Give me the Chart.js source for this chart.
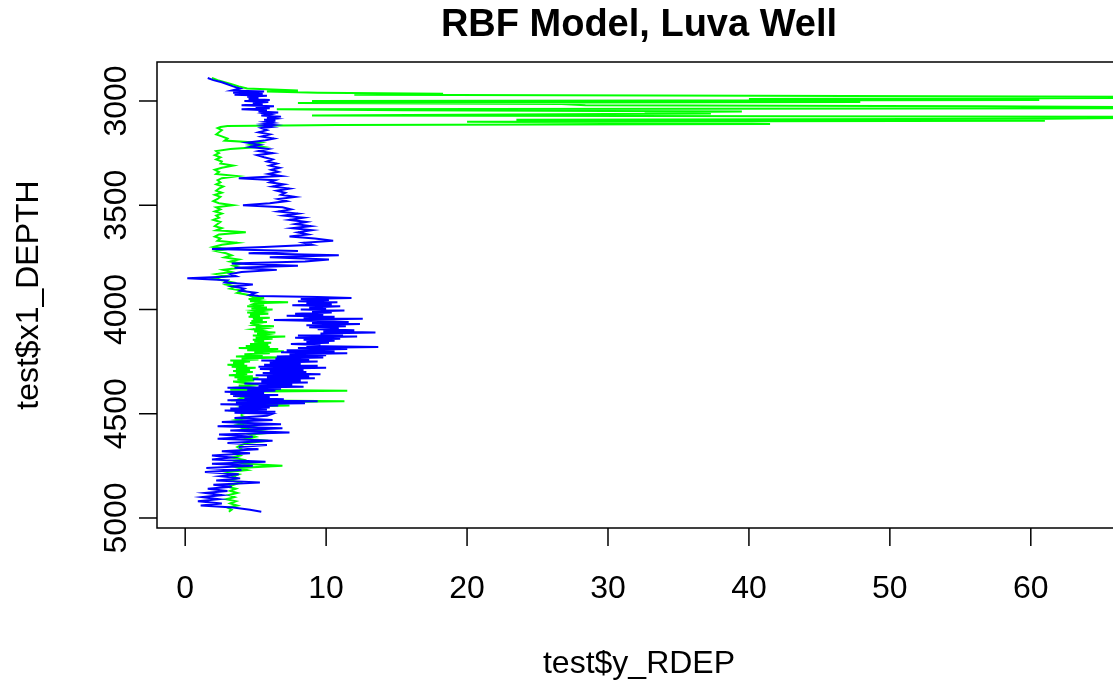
<!DOCTYPE html>
<html>
<head>
<meta charset="utf-8">
<title>RBF Model, Luva Well</title>
<script src="https://cdn.jsdelivr.net/npm/chart.js@4.4.1/dist/chart.umd.min.js"></script>
<style>
  html, body { margin: 0; padding: 0; overflow: hidden; background: #fff; }
</style>
</head>
<body>
<canvas id="chart" width="1121" height="686"></canvas>
<script>
// depth (ft); 10 ft steps, 5 ft where the log is busy
const depth = [
  2890, 2900, 2910, 2920, 2930, 2940,
  2950, 2955, 2960, 2965, 2970, 2975, 2980, 2985, 2990, 2995,
  3000, 3005, 3010, 3015, 3020, 3025, 3030, 3035, 3040, 3045,
  3050, 3055, 3060, 3065, 3070, 3075, 3080, 3085, 3090, 3095,
  3100, 3105, 3110, 3115, 3120, 3125, 3130,
  3140, 3150, 3160, 3170, 3180, 3190, 3200, 3210, 3220, 3230,
  3240, 3250, 3260, 3270, 3280, 3290, 3300, 3310, 3320, 3330,
  3340, 3350, 3360, 3370, 3380, 3390, 3400, 3410, 3420, 3430,
  3440, 3450, 3460, 3470, 3480, 3490, 3500, 3510, 3520, 3530,
  3540, 3550, 3560, 3570, 3580, 3590, 3600, 3610, 3620, 3630,
  3640, 3650, 3660, 3670, 3680, 3690, 3700, 3710, 3720, 3730,
  3740, 3750, 3760, 3770, 3780, 3790, 3800, 3810, 3820, 3830,
  3840, 3850, 3860, 3870, 3880, 3890, 3900, 3910, 3920, 3930,
  3935, 3940, 3945, 3950, 3955, 3960, 3965, 3970, 3975, 3980,
  3985, 3990, 3995, 4000, 4005, 4010, 4015, 4020, 4025, 4030,
  4035, 4040, 4045, 4050, 4055, 4060, 4065, 4070, 4075, 4080,
  4085, 4090, 4095, 4100, 4105, 4110, 4115, 4120, 4125, 4130,
  4135, 4140, 4145, 4150, 4155, 4160, 4165, 4170, 4175, 4180,
  4185, 4190, 4195, 4200, 4205, 4210, 4215, 4220, 4225, 4230,
  4235, 4240, 4245, 4250, 4255, 4260, 4265, 4270, 4275, 4280,
  4285, 4290, 4295, 4300,
  4305, 4310, 4315, 4320, 4325, 4330, 4335, 4340, 4345, 4350,
  4355, 4360, 4365, 4370, 4375, 4380, 4385, 4390, 4395, 4400,
  4405, 4410, 4415, 4420, 4425, 4430, 4435, 4440, 4445, 4450,
  4455, 4460, 4465, 4470, 4475, 4480, 4485, 4490, 4495, 4500,
  4510, 4520, 4530, 4540, 4550, 4560, 4570, 4580, 4590, 4600,
  4610, 4620, 4630, 4640, 4650, 4660, 4670, 4680, 4690, 4700,
  4710, 4720, 4730, 4740, 4750, 4760, 4770, 4780, 4790, 4800,
  4810, 4820, 4830, 4840, 4850, 4860, 4870, 4880, 4890, 4900,
  4910, 4920, 4930, 4940, 4950, 4960, 4970
];

// measured resistivity (green)
const rdepActual = [
  1.9, 2.3, 2.8, 3.3, 3.8, 4.4,
  8.0, 5.8, 9.4, 18.3, 12, 40.4, 70, 68, 40, 60.6,
  9, 47.9, 8, 26.7, 28.4, 56.5, 70, 70, 6.5, 15.5,
  39.5, 32.6, 37.3, 22.8, 9.0, 65.6, 70, 61.1, 23.5, 61,
  20, 36.2, 41.5, 10.8, 3.0, 2.5, 2.3,
  2.6, 2.4, 2.2, 2.6, 3.0, 2.8, 5.3, 4.6, 5.5, 3.2,
  2.2, 2.4, 2.1, 2.5, 2.2, 2.6, 2.5, 3.4, 2.6, 2.1,
  2.4, 2.2, 3.7, 2.6, 2.3, 2.5, 2.2, 2.7, 2.4, 2.2,
  2.6, 2.1, 2.5, 2.3, 2.0, 2.4, 3.4, 2.2, 2.5, 2.1,
  2.6, 2.2, 2.4, 2.0, 2.5, 2.3, 2.1, 2.6, 2.2, 4.3,
  2.4, 2.1, 2.5, 2.3, 3.7, 2.6, 2.0, 3.0, 2.2, 2.9,
  3.3, 2.8, 3.8, 3.2, 4.0, 3.4, 3.9, 2.7, 3.3, 2.2,
  3.0, 2.0, 2.6, 3.4, 2.9, 3.6, 3.2, 4.1, 3.7, 4.5,
  4.6, 4.8, 5.6, 4.5, 5.2, 4.6, 7.3, 5.0, 4.8, 5.6,
  4.4, 5.8, 4.7, 6.2, 4.9, 5.4, 4.4, 5.9, 4.6, 5.3,
  4.5, 6.0, 4.8, 5.5, 4.7, 5.8, 4.6, 5.2, 4.9, 6.3,
  5.0, 5.6, 4.8, 5.4, 4.9, 6.4, 5.1, 5.7, 4.8, 7.1,
  5.0, 6.2, 4.8, 5.6, 4.9, 6.1, 4.6, 5.9, 4.3, 6.0,
  3.8, 6.6, 4.4, 7.0, 4.9, 6.0, 4.2, 5.5, 3.6, 6.8,
  4.0, 5.2, 3.2, 4.6, 3.4, 4.2, 3.0, 4.4, 3.3, 5.0,
  3.6, 4.6, 3.4, 4.8,
  3.6, 4.4, 3.1, 4.8, 3.5, 5.2, 3.7, 4.9, 3.4, 3.9,
  4.6, 5.2, 3.8, 4.4, 3.6, 3.8, 3.2, 11.5, 3.8, 4.2,
  4.2, 3.6, 3.6, 4.7, 4.0, 3.8, 3.6, 11.3, 4.8, 4.8,
  5.0, 7.4, 4.2, 4.6, 3.8, 4.0, 3.6, 4.9, 4.4, 4.0,
  4.0, 4.4, 3.6, 4.5, 3.8, 4.8, 4.2, 5.1, 6.2, 4.6,
  5.0, 4.3, 5.9, 4.4, 4.0, 3.7, 4.0, 3.8, 3.5, 3.9,
  3.3, 4.1, 3.6, 4.2, 6.9, 3.8, 4.4, 3.0, 3.8, 3.4,
  3.7, 3.2, 3.9, 3.5, 3.0, 3.6, 3.2, 3.7, 3.1, 3.5,
  2.9, 3.6, 3.2, 3.7, 3.0, 3.3, 3.1
];

// RBF prediction (blue)
const rdepRbf = [
  1.6, 2.0, 2.6, 3.0, 3.4, 3.9,
  3.3, 5.6, 3.4, 5.5, 3.5, 5.8, 4.4, 5.2, 4.5, 6.0,
  4.2, 5.9, 4.8, 5.5, 4.0, 6.3, 5.0, 6.0, 4.0, 5.8,
  5.2, 6.6, 5.6, 6.0, 5.4, 6.8, 5.8, 6.4, 5.6, 6.4,
  5.7, 6.2, 5.6, 6.3, 5.6, 6.1, 5.4,
  5.8, 5.2, 6.0, 5.4, 6.3, 5.6, 4.4, 5.3, 4.6, 5.9,
  5.2, 6.2, 5.1, 5.6, 6.2, 5.8, 6.5, 6.0, 6.7, 6.1,
  6.6, 5.9, 6.8, 3.8, 6.4, 6.0, 7.0, 6.2, 7.4, 6.5,
  7.1, 6.8, 7.8, 6.6, 7.2, 6.0, 4.1, 6.9, 7.5, 6.6,
  8.0, 7.0, 8.4, 7.4, 8.6, 7.8, 8.9, 7.6, 9.0, 8.0,
  8.7, 7.4, 9.2, 10.5, 8.4, 9.0, 5.6, 1.9, 8.0, 4.5,
  10.9, 6.0, 10.2, 8.5, 3.3, 8.0, 3.5, 6.5, 4.0, 3.2,
  3.6, 0.15, 3.0, 2.8, 4.8, 3.4, 4.2, 3.9, 5.0, 4.6,
  5.2, 9.4, 11.8, 8.2, 10.2, 8.0, 10.8, 8.6, 10.4, 7.6,
  11.0, 8.8, 10.0, 8.2, 11.3, 9.0, 10.4, 7.8, 9.8, 7.2,
  10.6, 8.4, 12.6, 6.3, 9.5, 11.6, 9.0, 12.4, 8.6, 11.4,
  8.8, 10.9, 9.4, 12.0, 9.8, 13.5, 9.6, 11.2, 8.0, 12.2,
  7.8, 11.0, 8.4, 10.6, 8.6, 10.2, 7.5, 9.6, 8.6, 13.7,
  8.0, 11.5, 7.2, 10.6, 6.8, 11.5, 7.4, 10.0, 6.5, 9.8,
  6.4, 8.8, 5.4, 9.4, 6.0, 8.2, 5.6, 9.4, 5.2, 10.0,
  5.3, 8.4, 6.0, 8.6,
  5.5, 9.6, 5.0, 8.8, 5.8, 9.2, 4.8, 8.2, 5.4, 8.7,
  4.2, 7.6, 5.2, 8.4, 3.0, 6.8, 4.4, 6.4, 2.8, 5.6,
  3.2, 6.6, 3.4, 6.0, 4.2, 7.0, 3.0, 9.4, 3.6, 8.5,
  2.5, 6.6, 3.8, 6.0, 3.2, 5.8, 2.8, 6.4, 3.5, 6.2,
  5.8, 3.5, 6.2, 2.6, 6.8, 2.3, 6.9, 3.2, 7.4, 2.4,
  4.8, 2.3, 6.2, 3.0, 5.8, 3.8, 5.2, 2.6, 4.6, 1.9,
  3.3, 1.9, 5.7, 1.9, 4.8, 1.5, 4.0, 1.4, 3.8, 2.5,
  3.9, 2.2, 5.3, 2.0, 3.3, 1.6, 3.0, 1.4, 2.6, 1.2,
  2.4, 0.9, 2.6, 1.1, 3.4, 4.6, 5.4
];

const xTicks = [0, 10, 20, 30, 40, 50, 60];
const yTicks = [3000, 3500, 4000, 4500, 5000];

const FONT = "'Liberation Sans', Arial, sans-serif";

function toPoints(vals) {
  return vals.map((v, i) => ({ x: v, y: depth[i] }));
}

// R-style box, ticks, labels and titles
const rAxes = {
  id: 'rAxes',
  afterDraw(chart) {
    const { ctx, chartArea: a } = chart;
    const x = chart.scales.x, y = chart.scales.y;
    ctx.save();
    ctx.strokeStyle = '#000';
    ctx.fillStyle = '#000';
    ctx.lineWidth = 1.5;
    ctx.strokeRect(a.left, a.top, a.right - a.left, a.bottom - a.top);

    ctx.font = '32px ' + FONT;
    ctx.textAlign = 'center';
    ctx.textBaseline = 'middle';
    xTicks.forEach(t => {
      const px = x.getPixelForValue(t);
      ctx.beginPath(); ctx.moveTo(px, a.bottom); ctx.lineTo(px, a.bottom + 18); ctx.stroke();
      ctx.fillText(String(t), px, 589);
    });
    yTicks.forEach(t => {
      const py = y.getPixelForValue(t);
      ctx.beginPath(); ctx.moveTo(a.left, py); ctx.lineTo(a.left - 18, py); ctx.stroke();
      ctx.save();
      ctx.translate(117, py);
      ctx.rotate(-Math.PI / 2);
      ctx.fillText(String(t), 0, 0);
      ctx.restore();
    });

    // axis titles
    const cx = (a.left + a.right) / 2, cy = (a.top + a.bottom) / 2;
    ctx.fillText('test$y_RDEP', cx, 664);
    ctx.save();
    ctx.translate(29, cy);
    ctx.rotate(-Math.PI / 2);
    ctx.fillText('test$x1_DEPTH', 0, 0);
    ctx.restore();

    // main title
    ctx.font = 'bold 38px ' + FONT;
    ctx.fillText('RBF Model, Luva Well', cx, 26);
    ctx.restore();
  }
};

new Chart(document.getElementById('chart'), {
  type: 'scatter',
  data: {
    datasets: [
      { label: 'actual', data: toPoints(rdepActual), borderColor: '#00ff00', showLine: true, borderWidth: 2, pointRadius: 0, tension: 0, order: 2 },
      { label: 'RBF', data: toPoints(rdepRbf), borderColor: '#0000ff', showLine: true, borderWidth: 2, pointRadius: 0, tension: 0, order: 1 },
    ],
  },
  options: {
    responsive: false,
    animation: false,
    layout: { padding: { left: 157, top: 62, right: 0, bottom: 158 } },
    plugins: { legend: { display: false }, tooltip: { enabled: false }, title: { display: false } },
    scales: {
      x: { type: 'linear', min: -2.0, max: 66.4, display: false },
      y: { type: 'linear', reverse: true, min: 2813, max: 5048, display: false },
    },
  },
  plugins: [rAxes],
});
</script>
</body>
</html>
